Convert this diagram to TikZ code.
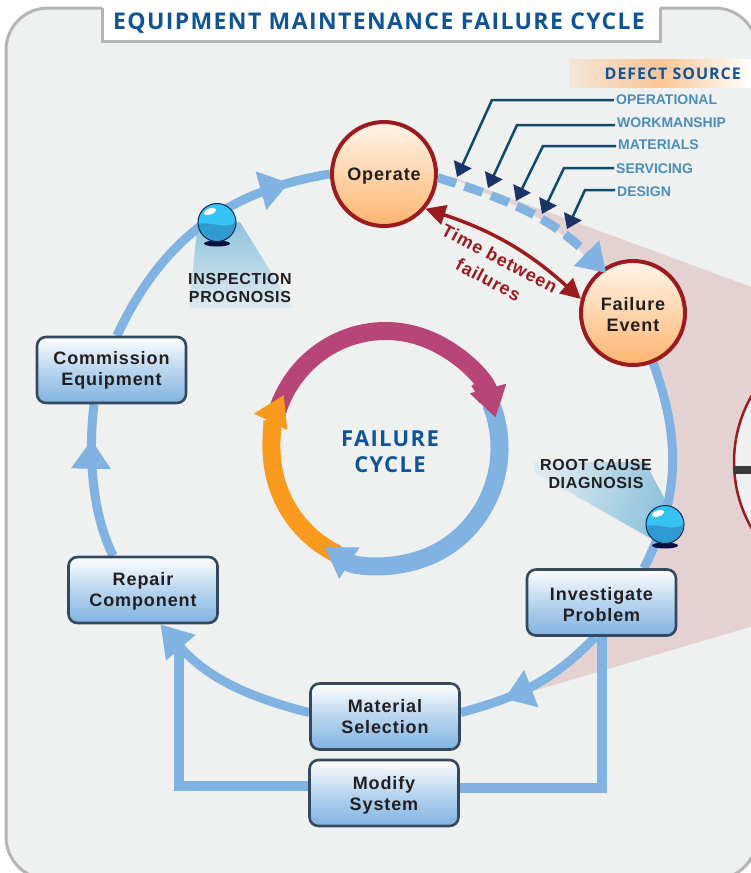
\documentclass[tikz,border=0pt]{standalone}
\usepackage{fontspec}
\setmainfont{Liberation Sans}
\newfontfamily\headfont{Open Sans}[LetterSpace=6]
\newfontfamily\stepfont{Liberation Sans}[LetterSpace=5]
\newfontfamily\notefont{Liberation Sans}[LetterSpace=4]
\usetikzlibrary{arrows.meta,backgrounds,decorations.markings}
\definecolor{panelgrey}{HTML}{EFF1F1}
\definecolor{panelline}{HTML}{B3B5B8}
\definecolor{titleblue}{HTML}{0F5596}
\definecolor{ringblue}{HTML}{80B3E2}
\definecolor{boxline}{HTML}{34495E}
\definecolor{darkred}{HTML}{9B1B1E}
\definecolor{wedgepink}{HTML}{E4D2D2}
\definecolor{cyclerose}{HTML}{B84577}
\definecolor{cycleorange}{HTML}{F9991D}
\definecolor{sourceblue}{HTML}{4A8DBB}
\definecolor{sourceline}{HTML}{0D4A6E}
\definecolor{sourcehead}{HTML}{1A3468}
\definecolor{sourceband}{HTML}{FBC594}
\definecolor{inktext}{HTML}{231F20}
\definecolor{discpale}{HTML}{FFF5EA}
\definecolor{disctone}{HTML}{FDB56F}
\definecolor{ballblue}{HTML}{35C3F3}
\definecolor{balldeep}{HTML}{2F9BD0}
\definecolor{ballline}{HTML}{0A2A50}
\definecolor{ballshadow}{HTML}{0A0F40}
\definecolor{beamdeep}{HTML}{8CC3DD}
\definecolor{beampale}{HTML}{DFEAF0}
\newcommand{\dropline}[1]{\rule{0pt}{#1}}
\tikzset{
    stepbox/.style={draw=boxline,line width=2.6pt,rounded corners=9pt,
        top color=white,bottom color=ringblue,middle color=ringblue!55!white,minimum width=149pt,minimum height=66pt,
        align=center,inner sep=0pt,text=inktext,font=\stepfont\bfseries\fontsize{18}{21}\selectfont},
    eventdisc/.style={circle,draw=darkred,line width=4pt,top color=discpale,
        bottom color=disctone,minimum size=104pt,
        align=center,inner sep=0pt,text=inktext,font=\stepfont\bfseries\fontsize{18}{21}\selectfont},
    ringflow/.style={draw=ringblue,line width=9pt,decoration={markings,
        mark=at position #1 with {\arrow{Triangle[length=29pt,width=38pt]}}},postaction={decorate}},
    ringplain/.style={draw=ringblue,line width=9pt},
    backflow/.style={draw=ringblue,line width=10pt},
    cyclearc/.style={line width=18pt,-{Triangle[length=30pt,width=35pt]}},
    sourcelabel/.style={anchor=west,inner sep=2pt,text=sourceblue,font=\bfseries\fontsize{14}{16}\selectfont},
    sourcearrow/.style={draw=sourceline,line width=2.5pt,-{Triangle[length=14pt,width=19pt,color=sourcehead]}},
    balloon/.style={align=center,inner sep=0pt,text=inktext,font=\notefont\bfseries\fontsize{16}{18}\selectfont},
    ball/.pic={
        \fill[ballshadow] (0,21) ellipse [x radius=13,y radius=3];
        \fill[ballblue] (0,0) circle [radius=19];
        \begin{scope}
            \clip (0,0) circle [radius=19];
            \fill[balldeep] (-20,2) .. controls (-8,-3) and (8,9) .. (20,-1) -- (20,20) -- (-20,20) -- cycle;
        \end{scope}
        \draw[ballline,line width=1pt] (0,0) circle [radius=19];
        \fill[white,shift={(-7,-11)},rotate=20] (0,0) ellipse [x radius=6.5,y radius=3];
    }
}
\begin{document}
\begin{tikzpicture}[x=1pt,y=-1pt]
    \useasboundingbox (0,0) rectangle (751,873);
    \begin{scope}[on background layer]
        \draw[panelline,line width=3pt,fill=panelgrey,rounded corners=42pt] (6,8) rectangle (757,879);
        \fill[white] (102,5) rectangle (660,41);
        \draw[panelline,line width=3pt] (102,8) |- (660,41) -- (660,8);
        % wedge towards the enlarged view
        \fill[wedgepink] (450,176) -- (760,290) -- (760,624) -- (530,692)
            arc [start angle=60,end angle=-40,x radius=288,y radius=272]
            -- (577,247) -- (550,225) -- (525,210) -- (498,198) -- (472,188) -- cycle;
        \draw[darkred,line width=2.5pt,fill=panelgrey] (867,462) circle [radius=133];
        \fill[black!55!gray] (734,466) rectangle (760,474);
        \shade[left color=sourceband!25!panelgrey,right color=white,middle color=sourceband] (569,59) rectangle (751,87);
        \shade[top color=beamdeep,bottom color=beampale] (197,230) -- (240,222) -- (293,308) -- (189,308) -- cycle;
        \shade[left color=beampale,right color=beamdeep,shading angle=70] (534,462) -- (645,462) -- (668,505) -- (650,538) -- (534,472) -- cycle;
    \end{scope}

    \node[text=titleblue,font=\headfont\bfseries\fontsize{23}{24}\selectfont] (title) at (379,23) {EQUIPMENT MAINTENANCE FAILURE CYCLE};
    \node[text=titleblue,anchor=east,inner sep=0pt,font=\headfont\bfseries\fontsize{16}{20}\selectfont] (source) at (741,74) {DEFECT SOURCE};
    \node[sourcelabel] (operational) at (614,100) {OPERATIONAL};
    \node[sourcelabel] (workmanship) at (615,123) {WORKMANSHIP};
    \node[sourcelabel] (materials) at (616,145) {MATERIALS};
    \node[sourcelabel] (servicing) at (614,169) {SERVICING};
    \node[sourcelabel] (design) at (615,192) {DESIGN};

    \node[eventdisc] (operate) at (384,174) {\dropline{17pt}Operate};
    \node[eventdisc] (failure) at (633,313) {\dropline{17pt}Failure\\Event};
    \node[stepbox] (commission) at (111.5,370) {Commission\\Equipment};
    \node[stepbox] (repair) at (143,590) {\dropline{15pt}Repair\\Component};
    \node[stepbox] (investigate) at (601.5,602.5) {\dropline{18pt}Investigate\\Problem};
    \node[stepbox] (material) at (385,716.5) {Material\\Selection};
    \node[stepbox] (modify) at (384,793) {\dropline{17pt}Modify\\System};

    \node[balloon] (inspection) at (240,288) {INSPECTION\\PROGNOSIS};
    \node[balloon] (rootcause) at (596,474) {ROOT CAUSE\\DIAGNOSIS};

    \coordinate (backtop) at (179,640);
    \coordinate (hub) at (385.5,448);
    \coordinate (tipa) at (457,177);
    \coordinate (tipb) at (488,188);
    \coordinate (tipc) at (516,201);
    \coordinate (tipd) at (542,214);
    \coordinate (tipe) at (567,229);

    \begin{scope}[on background layer]
        \draw[ringflow=0.85] (commission.81) to[out=65,in=189] (operate.west);
        \draw[ringplain] (failure.-68) to[out=-70,in=63] (investigate.39);
        \draw[ringflow=0.71] (investigate.-100) to[out=-134,in=15] (material.3);
        \draw[ringflow=0.77] (repair.131) to[out=117,in=263,looseness=0.8] (commission.-117);
        \draw[backflow] (investigate.south) |- (modify.4.5);
        \draw[backflow] (modify.175.5) -| (backtop);
        \draw[ringplain,-{Triangle[length=31pt,width=37pt]}] (material.177) to[out=166,in=-49] (repair.-63);
    \end{scope}

    \draw[draw=ringblue,line width=9pt,dash pattern=on 19pt off 9pt,-{Triangle[length=28pt,width=34pt]},shorten >=-6pt]
        (operate.-4) to[out=-17,in=135] (failure.125);
    \draw[darkred,line width=3.5pt,{Triangle[length=20pt,width=20pt]}-{Triangle[length=20pt,width=20pt]}]
        (operate.-40) to[bend left=12] (failure.165);
    \node[rotate=-28,align=center,inner sep=0pt,text=darkred,font=\stepfont\bfseries\fontsize{18}{24}\selectfont] (between) at (494,269) {Time between\\failures};

    \draw[sourcearrow] (operational.west) -- ++(-122,0) -- (tipa);
    \draw[sourcearrow] ([yshift=-2pt]workmanship.west) -- ++(-98,0) -- (tipb);
    \draw[sourcearrow] ([yshift=-1pt]materials.west) -- ++(-73,0) -- (tipc);
    \draw[sourcearrow] ([yshift=1pt]servicing.west) -- ++(-50,0) -- (tipd);
    \draw[sourcearrow] ([yshift=2pt]design.west) -- ++(-30,0) -- (tipe);

    \pic at (217,222.5) {ball};
    \pic at (665,524.5) {ball};

    % inner cycle, rose head goes over the blue arc
    \draw[cyclearc,cyclerose] (hub) ++(198:114 and 117) arc [start angle=198,end angle=345,x radius=114,y radius=117];
    \draw[cyclearc,cycleorange] (hub) ++(115:114 and 117) arc [start angle=115,end angle=207,x radius=114,y radius=117];
    \draw[cyclearc,ringblue] (hub) ++(338:114 and 117) arc [start angle=338,end angle=482.5,x radius=114,y radius=117];
    \draw[cyclearc,cyclerose] (hub) ++(325:114 and 117) arc [start angle=325,end angle=345,x radius=114,y radius=117];
    \node[align=center,inner sep=0pt,text=titleblue,font=\headfont\bfseries\fontsize{22}{26}\selectfont] (cycle) at (390,452) {FAILURE\\CYCLE};
\end{tikzpicture}
\end{document}
